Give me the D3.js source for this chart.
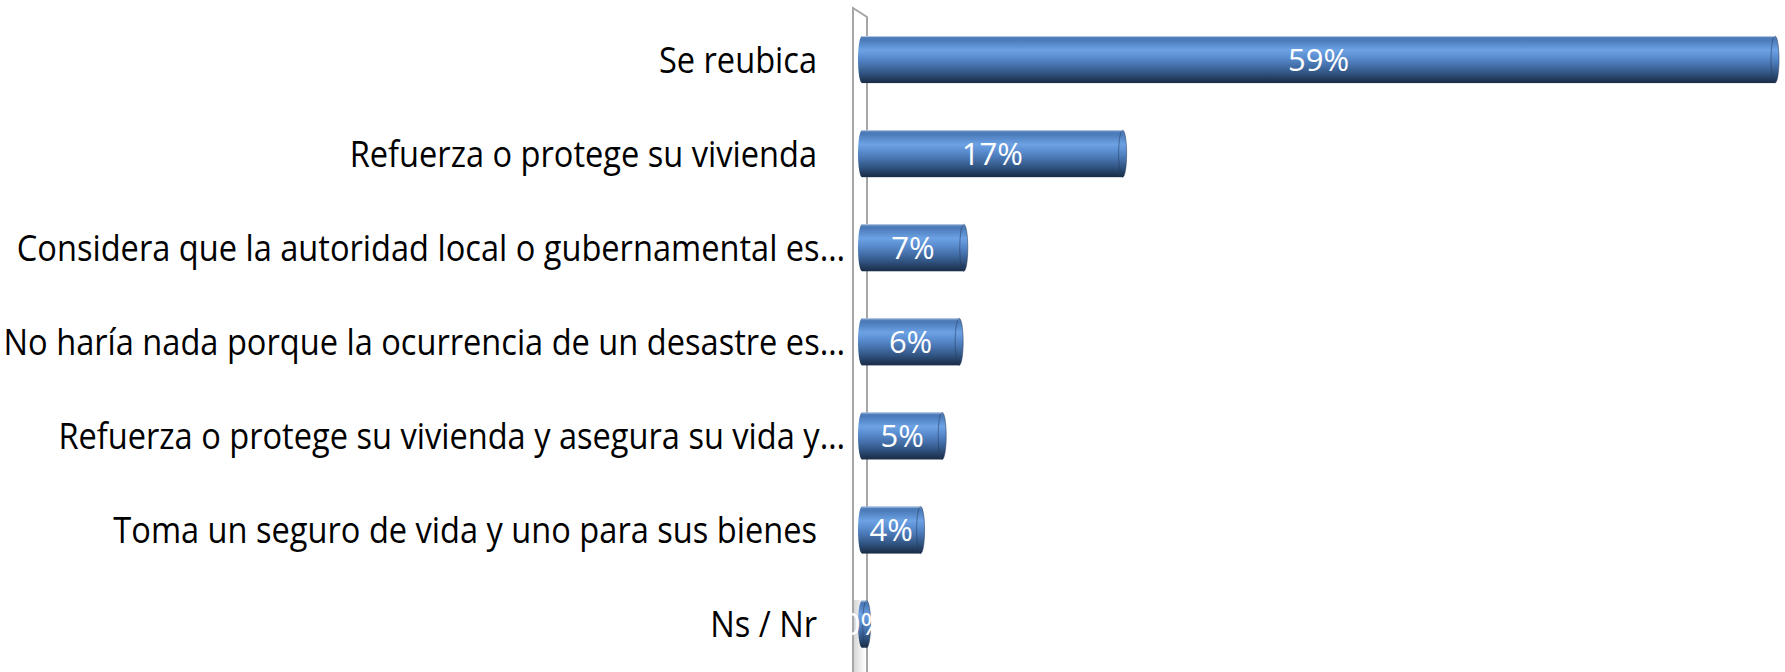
<!DOCTYPE html>
<html>
<head>
<meta charset="utf-8">
<script src="https://cdn.jsdelivr.net/npm/d3@7/dist/d3.min.js"></script>
<style>
    html, body { margin: 0; padding: 0; background: #fff; }
    svg { display: block; }
</style>
</head>
<body>
<div id="chart"></div>
<script>
(function() {
    'use strict';

    // categorias (de arriba a abajo)
    var categories = [
        'Se reubica',
        'Refuerza o protege su vivienda',
        'Considera que la autoridad local o gubernamental es\u2026',
        'No haría nada porque la ocurrencia de un desastre es\u2026',
        'Refuerza o protege su vivienda y asegura su vida y\u2026',
        'Toma un seguro de vida y uno para sus bienes',
        'Ns / Nr'
    ];
    // porcentajes
    var values = [59.2, 16.9, 6.6, 6.3, 5.2, 3.8, 0.3];

    var width = 1785, height = 672;

    var svg = d3.select('#chart').append('svg')
        .attr('width', width).attr('height', height);

    var defs = svg.append('defs');

    // gradiente cilindro
    var grad = defs.append('linearGradient')
        .attr('id', 'cyl').attr('x1', 0).attr('y1', 0).attr('x2', 0).attr('y2', 1);
    [
        [0, '#5a86c0'], [0.08, '#4a79b7'], [0.3, '#6ca2e4'], [0.45, '#5a8dcf'],
        [0.6, '#4875b1'], [0.78, '#325684'], [0.92, '#213a5b'], [1, '#1a2c46']
    ].forEach(function(s) {
        grad.append('stop').attr('offset', s[0]).attr('stop-color', s[1]);
    });

    // sombra del plano lateral
    var wallGrad = defs.append('linearGradient')
        .attr('id', 'wall').attr('x1', 0).attr('y1', 0).attr('x2', 1).attr('y2', 0);
    wallGrad.append('stop').attr('offset', 0).attr('stop-color', '#d8d8d8');
    wallGrad.append('stop').attr('offset', 1).attr('stop-color', '#ffffff');

    var x = d3.scaleLinear().domain([0, 59.2]).range([862, 1775]);
    var y = d3.scaleBand().domain(categories)
        .range([12.5, 671.2]).paddingInner(0.5).paddingOuter(0.25);

    var capRx = 4;

    // plano del eje (pared 3D)
    var wx0 = x(0) - 9, wx1 = x(0) + 5;
    var wall = svg.append('g');
    wall.append('path')
        .attr('d', 'M' + wx0 + ',' + height + 'L' + wx0 + ',8L' + wx1 + ',17L' + wx1 + ',' + height)
        .attr('fill', 'none').attr('stroke', '#a6a6a6').attr('stroke-width', 2);
    wall.append('rect')
        .attr('x', wx0 + 1).attr('y', 600).attr('width', wx1 - wx0 - 2).attr('height', height - 600)
        .attr('fill', 'url(#wall)');

    // etiquetas de categoria
    var labels = svg.append('g');
    labels.selectAll('text')
        .data(categories).enter().append('text')
        .attr('transform', function(d) {
            var trunc = d.slice(-1) === '\u2026';
            var lx = x(0) - (trunc ? 17 : 45);
            return 'translate(' + lx + ',' + (y(d) + y.bandwidth() / 2) + ') scale(0.905,1)';
        })
        .attr('dy', '0.36em')
        .attr('text-anchor', 'end')
        .attr('font-family', '"Open Sans", "Noto Sans", sans-serif')
        .attr('font-size', '36px')
        .attr('fill', '#000')
        .text(function(d) { return d; });

    // barras cilindricas
    var bars = svg.append('g').selectAll('g')
        .data(values).enter().append('g');

    bars.append('rect')
        .attr('x', x(0))
        .attr('y', function(d, i) { return y(categories[i]); })
        .attr('width', function(d) { return x(d) - x(0); })
        .attr('height', y.bandwidth())
        .attr('fill', 'url(#cyl)');

    bars.append('ellipse')
        .attr('cx', x(0))
        .attr('cy', function(d, i) { return y(categories[i]) + y.bandwidth() / 2; })
        .attr('rx', capRx).attr('ry', y.bandwidth() / 2)
        .attr('fill', 'url(#cyl)');

    bars.append('ellipse')
        .attr('cx', function(d) { return x(d); })
        .attr('cy', function(d, i) { return y(categories[i]) + y.bandwidth() / 2; })
        .attr('rx', capRx).attr('ry', y.bandwidth() / 2)
        .attr('fill', 'url(#cyl)')
        .attr('stroke', 'rgba(40,60,95,0.55)').attr('stroke-width', 1);

    // borde claro superior
    bars.append('line')
        .attr('x1', x(0))
        .attr('x2', function(d) { return x(d); })
        .attr('y1', function(d, i) { return y(categories[i]) + 0.5; })
        .attr('y2', function(d, i) { return y(categories[i]) + 0.5; })
        .attr('stroke', 'rgba(200,215,235,0.8)').attr('stroke-width', 1);

    // etiquetas de valor
    bars.append('text')
        .attr('x', function(d) { return (x(0) + x(d)) / 2; })
        .attr('y', function(d, i) { return y(categories[i]) + y.bandwidth() / 2; })
        .attr('dy', '0.36em')
        .attr('text-anchor', 'middle')
        .attr('font-family', '"Open Sans", "Noto Sans", sans-serif')
        .attr('font-size', '31px')
        .attr('fill', '#fff')
        .text(function(d) { return Math.round(d) + '%'; });
})();
</script>
</body>
</html>
